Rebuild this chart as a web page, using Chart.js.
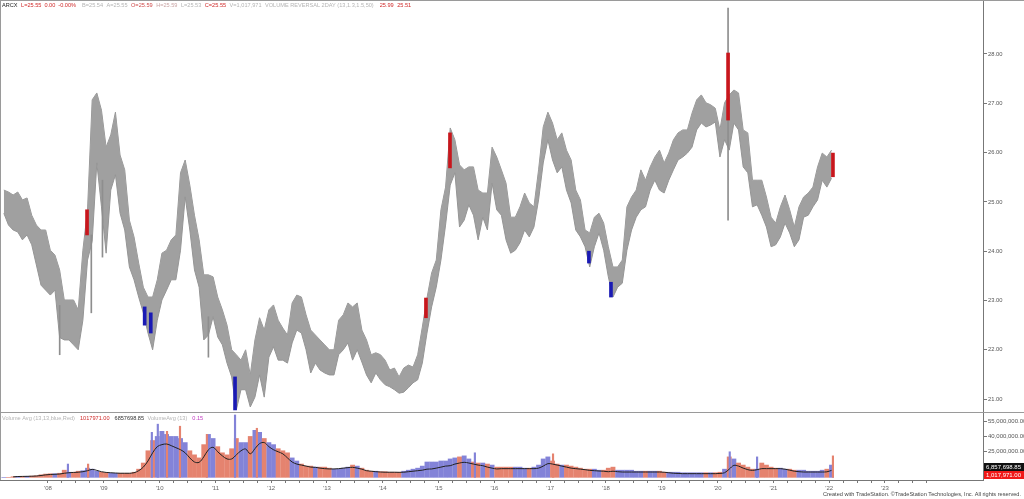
<!DOCTYPE html>
<html lang="en">
<head>
  <meta charset="UTF-8" />
  <title>ARCX - Volume Reversal 2DAY</title>
  <script src="https://cdn.jsdelivr.net/npm/chart.js"></script>
  <style>
    html, body { margin: 0; padding: 0; background: #fff; overflow: hidden; }
  </style>
</head>
<body>
  <canvas id="arcxChart" width="1024" height="499"></canvas>

  <script>
    // Monthly price range, first month = Mar 2007 (one line per year)
    const firstMonth = '2007-03';
    const monthHigh = [
      25.24, 25.20, 25.14, 25.20, 25.04, 25.08, 24.73, 24.53, 24.43, 24.43,
      24.02, 23.92, 23.62, 23.01, 23.01, 23.01, 22.81, 24.02, 24.84, 27.07, 27.21, 26.86,
      26.11, 26.36, 26.82, 25.95, 25.65, 24.63, 24.29, 23.76, 23.27, 23.07, 23.07, 23.42,
      23.96, 24.02, 24.23, 24.33, 25.59, 25.85, 25.34, 24.73, 24.23, 23.52, 23.52, 23.48,
      23.07, 22.81, 22.50, 22.00, 21.90, 21.79, 22.00, 21.49, 22.20, 22.65, 22.40, 22.81,
      22.91, 22.60, 22.44, 22.30, 22.95, 23.11, 23.07, 22.71, 22.40, 22.30, 22.20, 22.10,
      22.00, 22.00, 22.60, 22.71, 22.95, 22.87, 22.95, 22.40, 22.20, 21.90, 21.94, 21.90,
      21.79, 21.59, 21.63, 21.45, 21.63, 21.69, 21.65, 21.90, 22.46, 23.05, 23.56, 23.82,
      24.84, 25.30, 26.50, 26.26, 25.75, 25.65, 25.71, 25.71, 25.24, 25.18, 25.18, 26.11,
      25.91, 25.65, 25.38, 24.69, 24.69, 24.90, 25.18, 24.98, 24.90, 25.65, 26.52, 26.82,
      26.60, 26.26, 26.40, 26.05, 25.85, 25.24, 25.04, 24.43, 24.37, 24.69, 24.77, 24.57,
      24.09, 23.68, 23.68, 23.82, 24.90, 25.10, 25.24, 25.65, 25.44, 25.71, 25.91, 26.05,
      25.79, 25.99, 26.26, 26.40, 26.46, 26.46, 26.80, 27.07, 27.17, 27.01, 26.97, 26.90,
      26.46, 27.01, 27.17, 27.27, 27.21, 26.46, 26.40, 25.44, 25.44, 25.44, 25.10, 24.69,
      24.57, 24.90, 25.14, 24.84, 24.49, 24.90, 25.10, 25.18, 25.30, 25.71, 25.99, 25.91,
      26.05
    ];
    const monthLow = [
      24.77, 24.53, 24.43, 24.39, 24.23, 24.33, 24.13, 23.72, 23.31, 23.21,
      23.11, 23.21, 22.25, 22.20, 22.20, 22.10, 22.00, 22.60, 23.82, 24.20, 25.79, 24.90,
      23.96, 25.24, 25.55, 24.77, 24.43, 23.68, 23.42, 23.07, 22.75, 22.34, 22.00, 22.60,
      23.01, 23.21, 23.42, 23.42, 24.02, 25.10, 24.43, 23.62, 23.27, 22.20, 22.30, 22.67,
      22.26, 22.10, 21.73, 21.45, 20.78, 21.19, 21.19, 20.84, 21.04, 21.49, 21.04, 21.85,
      22.06, 21.79, 21.79, 21.73, 22.14, 22.40, 22.34, 22.00, 21.53, 21.73, 21.59, 21.53,
      21.49, 21.49, 21.90, 22.00, 22.14, 21.79, 22.00, 21.75, 21.49, 21.33, 21.53, 21.39,
      21.29, 21.25, 21.19, 21.12, 21.14, 21.23, 21.33, 21.39, 21.73, 22.34, 22.87, 23.27,
      23.82, 24.53, 25.34, 25.59, 24.49, 24.63, 24.94, 24.73, 24.23, 24.69, 24.43, 25.38,
      24.84, 24.73, 24.23, 23.96, 24.02, 24.17, 24.43, 24.29, 24.49, 25.04, 25.79, 26.26,
      25.85, 25.59, 25.71, 25.24, 24.98, 24.43, 24.29, 24.09, 23.68, 24.09, 24.37, 24.02,
      23.48, 23.07, 23.27, 23.35, 24.02, 24.43, 24.69, 24.84, 24.90, 25.24, 25.44, 25.24,
      25.18, 25.44, 25.65, 25.85, 25.91, 25.99, 26.11, 26.46, 26.60, 26.52, 26.56, 26.62,
      25.91, 26.26, 26.05, 26.60, 26.46, 25.71, 25.59, 24.90, 24.94, 24.73, 24.49, 24.09,
      24.13, 24.29, 24.57, 24.37, 24.09, 24.23, 24.69, 24.73, 24.90, 25.04, 25.44, 25.30,
      25.48
    ];
    // Monthly volume (millions) and its 13-bar average
    const monthVolume = [
      0, 0, 0.6, 1.0, 1.0, 1.0, 1.2, 1.5, 2.5, 3.2,
      3.5, 3.5, 4.0, 7.0, 5.0, 5.0, 6.0, 6.5, 9.0, 8.0, 6.0, 5.0,
      4.5, 4.0, 4.0, 4.0, 4.0, 4.0, 5.0, 8.0, 14, 26, 36, 40,
      45, 42, 40, 40, 38, 34, 26, 22, 19, 32, 42, 38,
      30, 24, 22, 28, 38, 34, 34, 40, 46, 44, 38, 34,
      32, 28, 26, 24, 19, 16, 13, 11, 11, 10, 10, 10,
      9, 8, 8, 9, 10, 12, 11, 9, 7, 6, 6, 5.5,
      5.5, 5, 5, 5, 6, 7, 8, 9, 11, 15, 15, 15,
      16, 16, 18, 19, 20, 21, 18, 15, 14, 14, 13, 12,
      10, 10, 10, 10, 10, 10, 9, 9, 10, 12, 18, 20,
      16, 13, 12, 12, 11, 10, 9, 8, 8, 8, 7, 7,
      9, 10, 7, 7, 7, 7, 6, 6, 6, 6, 6, 6,
      5, 5, 5, 5, 4.5, 4.5, 4.5, 4.5, 4.5, 4.5, 4.5, 4.5,
      5, 8, 20, 18, 14, 12, 10, 8, 8, 14, 12, 10,
      9, 9, 8, 8, 7, 7, 7, 6, 6, 6, 7, 8,
      12
    ];
    const monthVolumeAvg = [
      null, null, 0.5, 0.8, 0.9, 1.0, 1.1, 1.3, 1.8, 2.4,
      2.8, 3.0, 3.2, 4.0, 4.5, 4.8, 5.0, 5.5, 6.5, 7.8, 6.8, 5.5,
      4.8, 4.5, 4.2, 4.0, 4.0, 4.0, 4.5, 6.5, 10, 16, 24, 30,
      32, 32.6, 31, 29, 27, 24, 19, 15, 14.7, 20, 27, 29.4,
      25, 21, 18, 18, 22, 26, 27.7, 23, 28, 33, 34, 30,
      27, 25, 23, 19, 15, 13, 12, 11, 10, 9.8, 9, 8.5,
      8.2, 8.2, 8.5, 9, 9.5, 9.8, 9, 8, 6.5, 6, 5.5, 5.2,
      5, 5, 5, 4.9, 5, 5.5, 6, 6.5, 7, 8, 8.2, 9,
      10, 11, 11.4, 13, 14, 14.7, 14, 13, 12, 11.4, 10, 9,
      8.2, 8.5, 8.5, 8.5, 8.5, 8.5, 8.5, 8.5, 8.5, 9, 11, 13.4,
      13, 12, 11, 10, 9, 8.5, 8, 7.5, 6.8, 6.5, 6.2, 6,
      5.5, 6, 5.5, 5.2, 5.2, 5.2, 5.2, 5.2, 5.2, 5.2, 5.2, 5.2,
      5, 4.5, 4, 3.8, 3.6, 3.6, 3.6, 3.6, 3.6, 3.6, 3.6, 3.6,
      3.8, 4.5, 8, 11.7, 11, 9, 7.5, 6.8, 7.5, 8.5, 8.5, 8.5,
      8.5, 8.5, 8, 7, 6, 5.5, 5.2, 5.2, 5.2, 5.2, 5.2, 5.4,
      6.8
    ];

    // Single-day volume spikes (millions)
    const spikeDates = ['2008-05-10', '2008-09-19', '2009-11-11', '2009-12-20', '2010-02-18', '2010-05-14', '2010-11-06',
                        '2011-05-09', '2011-09-29', '2015-08-26', '2017-01-19', '2020-03-20', '2020-09-15', '2022-01-25'];
    const spikeVolume = [13, 13, 44, 52, 45, 50, 42, 61, 48, 24, 23, 25, 20, 21];
    const spikeUp = [true, false, true, true, false, false, false, true, false, true, false, true, true, false];

    // Single-day wicks that reach beyond the monthly band
    const wickDates = ['2008-03-17', '2008-10-10', '2008-12-22', '2010-11-16', '2020-03-09'];
    const wickLow  = [21.90, 22.75, 23.88, 21.85, 24.63];
    const wickHigh = [22.90, 24.33, 25.44, 22.67, 28.93];

    // Volume reversal signal bars
    const signalDates = ['2008-09-12', '2009-09-25', '2009-11-04', '2011-05-09', '2014-10-10',
                         '2015-03-16', '2017-09-11', '2018-02-02', '2020-03-09', '2022-01-25'];
    const signalHigh = [24.84, 22.87, 22.75, 21.45, 23.05, 26.40, 24.00, 23.37, 28.02, 25.99];
    const signalLow  = [24.33, 22.50, 22.34, 20.78, 22.65, 25.69, 23.76, 23.07, 26.66, 25.51];
    const signalSide = ['sell', 'buy', 'buy', 'buy', 'sell', 'sell', 'buy', 'buy', 'sell', 'sell'];

    const priceTicks = [21, 22, 23, 24, 25, 26, 27, 28];
    const volumeTicks = [10e6, 25e6, 40e6, 55e6];
    const yearTicks = [2008, 2009, 2010, 2011, 2012, 2013, 2014, 2015, 2016, 2017, 2018, 2019, 2020, 2021, 2022, 2023];
    const yearLabels = ["'08", "'09", "'10", "'11", "'12", "'13", "'14", "'15", "'16", "'17", "'18", "'19", "'20", "'21", "'22", "'23"];

    const lastVolume = 1017971;
    const lastVolumeAvg = 6857698.85;

    // ---- helpers ----
    const FONT = "'Liberation Sans', Arial, sans-serif";
    const GREY = '#a0a0a0';
    const RED = '#c8161c';
    const BLUE = '#1a1ab4';
    const VOL_UP = '#8383d8';
    const VOL_DOWN = '#e5836f';

    function monthToYear(i) {
      const [y0, m0] = firstMonth.split('-').map(Number);
      return y0 + (m0 - 1 + i + 0.5) / 12;
    }
    function dateToYear(s) {
      const d = new Date(s + 'T12:00:00Z');
      const start = Date.UTC(d.getUTCFullYear(), 0, 1);
      return d.getUTCFullYear() + (d - start) / (365.25 * 864e5);
    }

    const highLine = monthHigh.map((h, i) => ({ x: monthToYear(i), y: h }));
    const lowLine = monthLow.map((l, i) => ({ x: monthToYear(i), y: l }));
    const volBars = monthVolume.map((v, i) => ({ x: monthToYear(i), y: v * 1e6 }));
    const volColors = monthVolume.map((v, i) => {
      if (i === 0) return VOL_UP;
      const mid = (monthHigh[i] + monthLow[i]) / 2, prev = (monthHigh[i - 1] + monthLow[i - 1]) / 2;
      return mid >= prev ? VOL_UP : VOL_DOWN;
    });
    const avgLine = monthVolumeAvg.map((v, i) => ({ x: monthToYear(i), y: v === null ? null : v * 1e6 }));
    const spikes = spikeDates.map((d, i) => ({ x: dateToYear(d), y: spikeVolume[i] * 1e6 }));
    const wicks = wickDates.map((d, i) => ({ x: dateToYear(d), y: [wickLow[i], wickHigh[i]] }));
    const signals = signalDates.map((d, i) => ({ x: dateToYear(d), y: [signalLow[i], signalHigh[i]] }));

    // quarter marks on the time axis
    const axisMarks = [];
    yearTicks.forEach(y => { axisMarks.push(y, y + 0.25, y + 0.5, y + 0.75); });

    // overlay: header lines, pane separator, last-value boxes, footer
    const overlay = {
      id: 'overlay',
      afterDraw(chart) {
        const c = chart.ctx;
        const area = chart.chartArea;
        const y2 = chart.scales.y2;
        c.save();

        // frame
        c.strokeStyle = '#9a9a9a';
        c.lineWidth = 1;
        c.beginPath();
        c.moveTo(0.5, 0); c.lineTo(0.5, area.bottom);
        c.moveTo(0, 0.5); c.lineTo(1024, 0.5);
        c.moveTo(0, Math.round(y2.top) + 0.5); c.lineTo(1024, Math.round(y2.top) + 0.5);
        c.stroke();

        function line(parts, x, y) {
          c.font = '5.6px ' + FONT;
          c.textBaseline = 'middle';
          c.textAlign = 'left';
          parts.forEach(([txt, col, gap]) => {
            c.fillStyle = col;
            c.fillText(txt, x, y);
            x += c.measureText(txt).width + (gap || 3.5);
          });
        }
        line([
          ['ARCX', '#222'], ['L=25.55', '#d02a2a', 3], ['0.00', '#d02a2a', 3], ['-0.00%', '#d02a2a', 6],
          ['B=25.54', '#b4b4b4'], ['A=25.55', '#b4b4b4'], ['O=25.59', '#cf4a4a'], ['H=25.59', '#c9a4a4'],
          ['L=25.53', '#b4b4b4'], ['C=25.55', '#d02a2a'], ['V=1,017,971', '#b4b4b4'],
          ['VOLUME REVERSAL 2DAY (13,1.3,1.5,50)', '#b4b4b4', 6], ['25.99', '#d02a2a'], ['25.51', '#d02a2a']
        ], 2, 5);
        line([
          ['Volume Avg (13,13,blue,Red)', '#b4b4b4', 5], ['1017971.00', '#d02a2a', 5],
          ['6857698.85', '#333'], ['VolumeAvg (13)', '#b4b4b4', 5], ['0.15', '#c03cc0']
        ], 2, y2.top + 6);

        // last value boxes on the volume axis
        const redTop = Math.round(y2.getPixelForValue(lastVolume)) - 5;
        const fmt = v => v.toLocaleString('en-US', { minimumFractionDigits: 2, maximumFractionDigits: 2 });
        c.font = '6px ' + FONT;
        c.textBaseline = 'middle';
        c.fillStyle = '#111';
        c.fillRect(area.right + 1, redTop - 8, 1024 - area.right, 8);
        c.fillStyle = '#f01818';
        c.fillRect(area.right + 1, redTop, 1024 - area.right, 8);
        c.fillStyle = '#fff';
        c.fillText(fmt(lastVolumeAvg), area.right + 3, redTop - 4);
        c.fillText(fmt(lastVolume), area.right + 3, redTop + 4);

        // footer
        c.font = '5.6px ' + FONT;
        c.fillStyle = '#444';
        c.textAlign = 'right';
        c.fillText('Created with TradeStation. \u00A9TradeStation Technologies, Inc. All rights reserved.', 1021, 494);
        c.restore();
      }
    };

    const noPad = s => { s.paddingTop = 0; s.paddingBottom = 0; s.paddingLeft = 0; s.paddingRight = 0; };

    const ctx = document.getElementById('arcxChart').getContext('2d');
    new Chart(ctx, {
      type: 'bar',
      data: {
        datasets: [
          { type: 'line', label: 'High', data: highLine, yAxisID: 'y', borderColor: '#959595', borderWidth: 1,
            pointRadius: 0, tension: 0, fill: false, order: 4 },
          { type: 'line', label: 'Low', data: lowLine, yAxisID: 'y', borderColor: '#959595', borderWidth: 1,
            pointRadius: 0, tension: 0, fill: '-1', backgroundColor: GREY, order: 3 },
          { label: 'Wicks', data: wicks, yAxisID: 'y', backgroundColor: '#8e8e8e', barThickness: 1, grouped: false, order: 2 },
          { label: 'Signals', data: signals, yAxisID: 'y', grouped: false, barThickness: 3, order: 1,
            backgroundColor: signalSide.map(s => s === 'sell' ? RED : BLUE) },
          { label: 'Volume', data: volBars, yAxisID: 'y2', backgroundColor: volColors, barThickness: 4.2, grouped: false, order: 6 },
          { label: 'Volume spikes', data: spikes, yAxisID: 'y2', grouped: false, barThickness: 1.5, order: 5,
            backgroundColor: spikeUp.map(u => u ? VOL_UP : VOL_DOWN) },
          { type: 'line', label: 'VolumeAvg (13)', data: avgLine, yAxisID: 'y2', borderColor: '#222', borderWidth: 1,
            pointRadius: 0, tension: 0.35, spanGaps: false, order: 0 }
        ]
      },
      options: {
        responsive: false,
        animation: false,
        devicePixelRatio: 1,
        layout: { padding: 0 },
        plugins: { legend: { display: false }, tooltip: { enabled: false } },
        scales: {
          x: {
            type: 'linear', position: 'bottom', offset: false,
            min: 2008 - 48 / 55.8, max: 2008 + 935 / 55.8,
            grid: { display: true, drawOnChartArea: false, offset: false, tickLength: 3, color: '#777' },
            border: { color: '#777' },
            afterBuildTicks: s => { s.ticks = axisMarks.map(v => ({ value: v })); },
            afterFit: s => { s.height = 19; noPad(s); },
            ticks: {
              autoSkip: false, maxRotation: 0, padding: 2, color: '#666',
              font: { size: 6, family: FONT },
              callback: v => { const i = yearTicks.indexOf(v); return i >= 0 ? yearLabels[i] : ''; }
            }
          },
          y: {
            type: 'linear', position: 'right', stack: 'panes', stackWeight: 412,
            min: 28 - 358 / 49.3, max: 28 + 54 / 49.3,
            grid: { display: true, drawOnChartArea: false, tickLength: 4, color: '#777' },
            border: { color: '#777' },
            afterBuildTicks: s => { s.ticks = priceTicks.map(v => ({ value: v })); },
            afterFit: s => { s.width = 41; noPad(s); },
            ticks: { padding: 1, color: '#555', font: { size: 5.8, family: FONT }, callback: v => v.toFixed(2) }
          },
          y2: {
            type: 'linear', position: 'right', stack: 'panes', stackWeight: 68,
            min: -2.6e6, max: 63.9e6,
            grid: { display: true, drawOnChartArea: false, tickLength: 4, color: '#777' },
            border: { color: '#777' },
            afterBuildTicks: s => { s.ticks = volumeTicks.map(v => ({ value: v })); },
            afterFit: s => { s.width = 41; noPad(s); },
            ticks: {
              padding: 1, color: '#555', font: { size: 6, family: FONT },
              callback: v => v.toLocaleString('en-US', { minimumFractionDigits: 2, maximumFractionDigits: 2 })
            }
          }
        }
      },
      plugins: [overlay]
    });
  </script>
</body>
</html>
